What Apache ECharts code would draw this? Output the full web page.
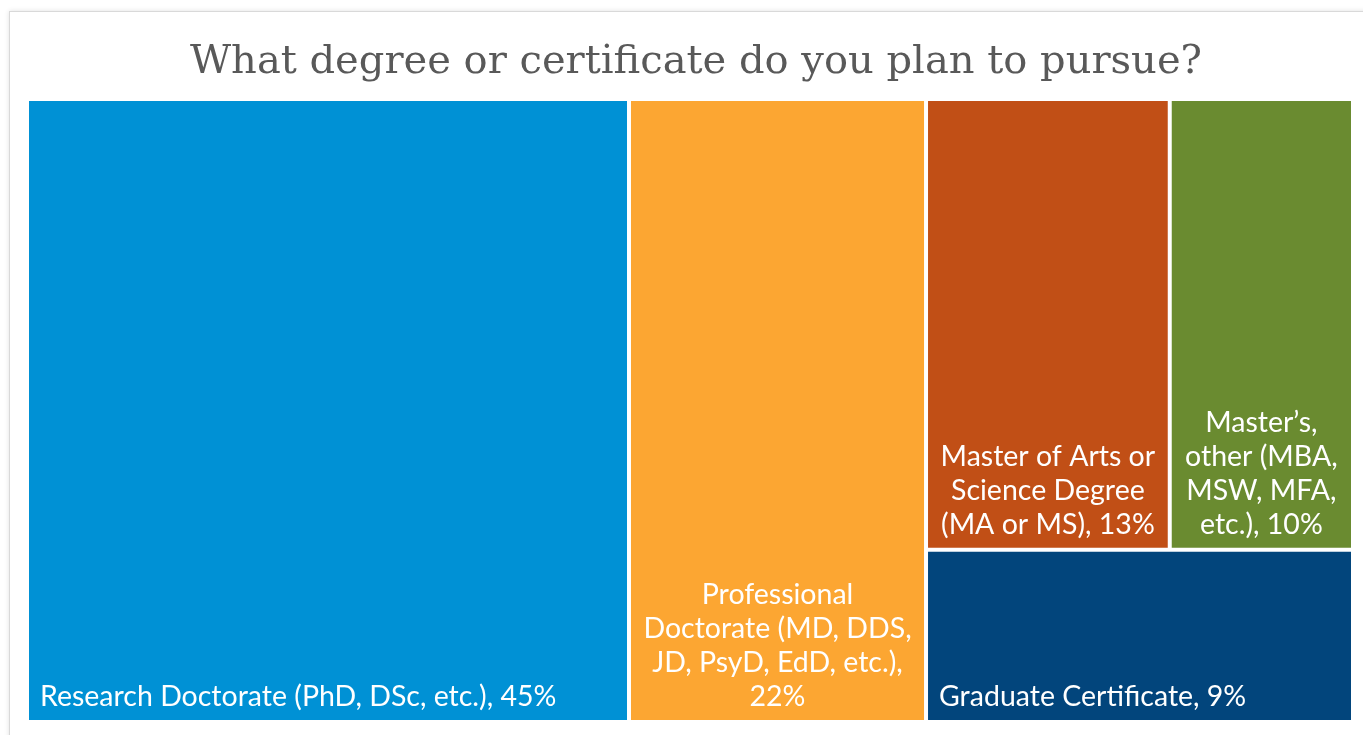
<!DOCTYPE html>
<html>
<head>
<meta charset="utf-8">
<script src="https://cdn.jsdelivr.net/npm/echarts@6/dist/echarts.min.js"></script>
<style>
  html, body { margin: 0; padding: 0; background: #fff; width: 1363px; height: 735px; overflow: hidden; }
  #card { position: absolute; left: 9px; top: 11px; width: 1420px; height: 800px; border: 1px solid #d9d9d9; box-shadow: 0 0 5px rgba(0,0,0,0.12); background: #fff; }
  #chart { position: absolute; left: 0; top: 0; width: 1363px; height: 735px; }
</style>
</head>
<body>
<div id="card"></div>
<div id="chart"></div>
<script>
const titleText = 'What degree or certificate do you plan to pursue?';
const categories = [
  'Research Doctorate (PhD, DSc, etc.)',
  'Professional Doctorate (MD, DDS, JD, PsyD, EdD, etc.)',
  'Master of Arts or Science Degree (MA or MS)',
  'Master\u2019s, other (MBA, MSW, MFA, etc.)',
  'Graduate Certificate'
];
// shares in percent (estimated from tile areas; labels show rounded values)
const values = [45.4, 22.4, 13.3, 10.0, 8.9];
const labelLines = [
  'Research Doctorate (PhD, DSc, etc.), ',
  'Professional\nDoctorate (MD, DDS,\nJD, PsyD, EdD, etc.),\n',
  'Master of Arts or\nScience Degree\n(MA or MS), ',
  'Master\u2019s,\nother (MBA,\nMSW, MFA,\netc.), ',
  'Graduate Certificate, '
];
const colors = ['#0091D5', '#FCA632', '#C14F16', '#6A8B30', '#02457C'];
const labelAlign = ['left', 'center', 'center', 'center', 'left'];

function leaf(i) {
  const left = labelAlign[i] === 'left';
  return {
    name: categories[i],
    value: values[i],
    itemStyle: { color: colors[i] },
    label: {
      formatter: () => labelLines[i] + Math.round(values[i]) + '%',
      position: left ? 'insideBottomLeft' : 'insideBottom',
      align: labelAlign[i],
      padding: left ? [0, 0, 0, 5] : 0
    }
  };
}
function group(name, children) {
  return {
    name: name,
    value: children.reduce((s, c) => s + c.value, 0),
    itemStyle: { color: '#ffffff' },
    children: children
  };
}

const treeData = [
  group('Doctorates', [leaf(0), leaf(1)]),
  group('Masters and certificates', [
    group('Masters', [leaf(2), leaf(3)]),
    leaf(4)
  ])
];

const chart = echarts.init(document.getElementById('chart'), null, { renderer: 'canvas' });
chart.setOption({
  backgroundColor: 'transparent',
  animation: false,
  title: {
    text: titleText,
    left: 691,
    textAlign: 'center',
    top: 33,
    textStyle: { fontFamily: 'DejaVu Serif', fontSize: 40, fontWeight: 'normal', color: '#595959', lineHeight: 50 }
  },
  series: [{
    type: 'treemap',
    left: 29, top: 101, width: 1322, height: 619,
    roam: false,
    nodeClick: false,
    sort: false,
    breadcrumb: { show: false },
    itemStyle: { gapWidth: 4, borderWidth: 0, borderColor: '#ffffff' },
    upperLabel: { show: false },
    label: {
      show: true,
      color: '#ffffff',
      fontFamily: 'Lato',
      fontSize: 28.5,
      lineHeight: 34,
      distance: 6,
      overflow: 'none'
    },
    emphasis: { disabled: true },
    data: treeData
  }]
});
</script>
</body>
</html>
